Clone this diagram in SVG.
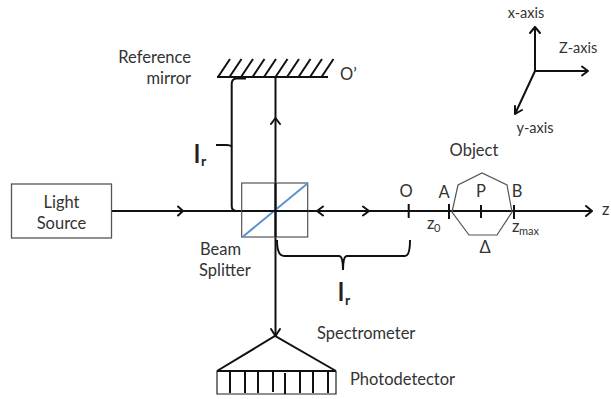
<svg xmlns="http://www.w3.org/2000/svg" width="611" height="399" viewBox="0 0 611 399">
<style>
text{font-family:Lato,"Liberation Sans",sans-serif;font-size:16.5px;fill:#333}
.m{text-anchor:middle}.e{text-anchor:end}
.a{font-size:14.500px}
.b{font-size:24px;font-weight:700;fill:#222}
.r{font-size:14px;font-weight:700;fill:#222}
.s{font-size:11px}
.l{fill:none;stroke:#111;stroke-width:2}
.t{fill:none;stroke:#111;stroke-width:2}
.h{fill:none;stroke:#111;stroke-width:2;stroke-linecap:round;stroke-linejoin:round}
.g{fill:none;stroke:#555;stroke-width:1.2}
</style>
<rect width="611" height="399" fill="#fff"/>
<g id="connectors">
<path class="l" d="M112 211H592"/>
<path class="l" d="M275.500 77V336"/>
<path class="h" d="M178 206.500l5 4.500l-5 4.500M586 206l6 5l-6 5M363 206.500l6 4.500l-6 4.500M323 206.500l-6 4.500l6 4.500M271 124l4.500-6l4.500 6M271 329l4.500 7l4.500-7"/>
<path class="t" d="M246 78.500H236Q231.700 79 231.700 84V206Q231.700 211 237 211H246"/>
<path class="t" d="M216 145H226Q231 145 231.700 147"/>
<path class="t" d="M277 240Q277 256 284 256H339Q343 256 343 270Q343 256 347 256H405Q410 256 410 240"/>
</g>
<g id="light-source">
<rect x="11.500" y="184" width="100" height="54" fill="#fff" stroke="#555" stroke-width="1.300"/>
<text class="m" x="61.500" y="208">Light</text>
<text class="m" x="61.500" y="229">Source</text>
</g>
<g id="reference-mirror">
<path class="l" d="M217 77H328"/>
<path class="t" d="M218 77L230 59M229.500 77L241.500 59M241 77L253 59M252.500 77L264.500 59M264 77L276 59M275.500 77L287.500 59M287 77L299 59M298.500 77L310.500 59M310 77L322 59M321.500 77L333.500 59"/>
<text class="e" x="191" y="63">Reference</text>
<text class="e" x="191" y="84">mirror</text>
<text x="340" y="80">O’</text>
</g>
<g id="beam-splitter">
<rect class="g" x="241.700" y="183" width="66" height="54"/>
<path d="M242.500 237L307.500 183.500" fill="none" stroke="#5b93c9" stroke-width="2"/>
<path class="l" d="M242 211H308M275.500 183V237"/>
<text x="200" y="255">Beam</text>
<text x="199" y="276">Splitter</text>
</g>
<g id="path-labels">
<text class="b" x="194" y="163">l</text><text class="r" x="201" y="166">r</text>
<text class="b" x="338" y="301">l</text><text class="r" x="345" y="305">r</text>
</g>
<g id="object">
<path class="g" d="M452 212L458 185L482 173L507 185L512 212L497 235L469 235Z"/>
<path class="l" d="M408.700 204V218M449 204V219M481 205V218M514 205V219"/>
<text class="m" x="474" y="156">Object</text>
<text class="m" x="406" y="197">O</text>
<text class="m" x="444" y="198">A</text>
<text class="m" x="481" y="197">P</text>
<text class="m" x="517" y="197">B</text>
<text x="427" y="229">z</text><text class="s" x="434" y="232">0</text>
<text x="512" y="232">z</text><text class="s" x="519" y="235">max</text>
<text class="m" x="485" y="253">Δ</text>
<text x="602" y="215">z</text>
</g>
<g id="spectrometer">
<path class="l" d="M217 371L275 336L336 371"/>
<text x="317" y="339">Spectrometer</text>
</g>
<g id="photodetector">
<path class="g" style="stroke:#222" d="M217 371V394H336V371"/>
<path class="l" d="M217 371H336M230 372V393M245 372V393M258 372V393M273 371V392M285 373V394M300 372V393M313 372V393M328 372V393"/>
<text x="350" y="385">Photodetector</text>
</g>
<g id="axes">
<path class="h" d="M535 71V27M530 33l5-6l5 6M535 71H588M582 66.500l6 4.500l-6 4.500M535 71L515 114M515 106l0 8l7-4"/>
<text class="m a" x="526" y="18">x-axis</text>
<text class="a" x="559" y="53">Z-axis</text>
<text class="m a" x="535" y="133">y-axis</text>
</g>
</svg>
